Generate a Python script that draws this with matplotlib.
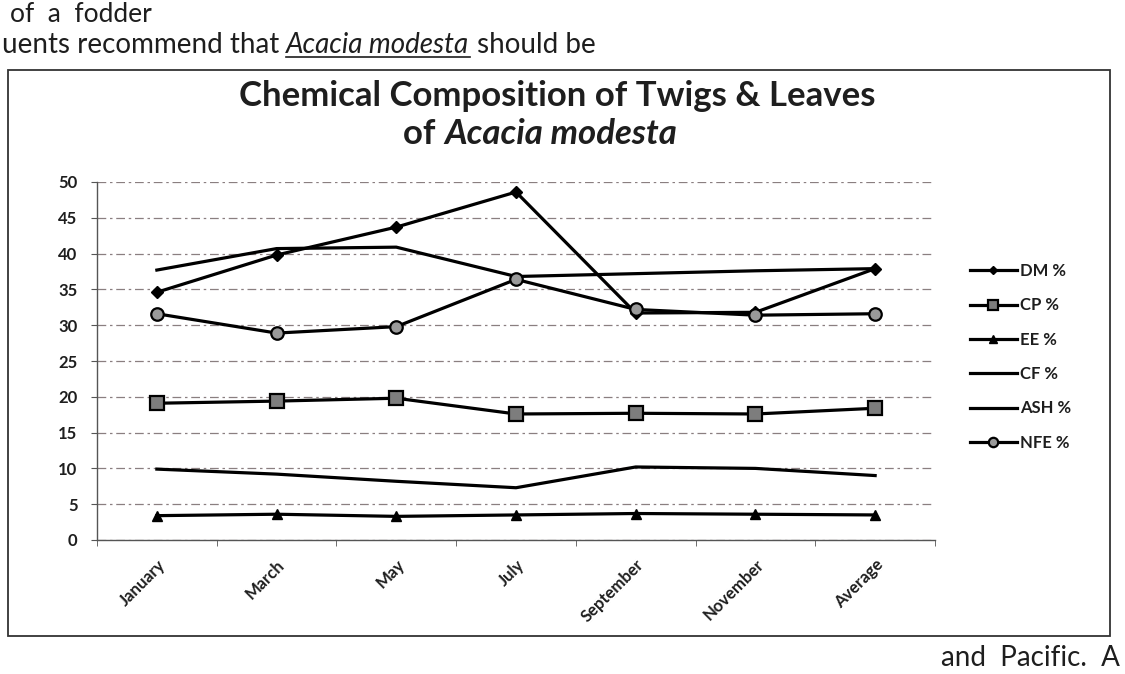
import matplotlib
matplotlib.use("Agg")
import matplotlib.pyplot as plt
from matplotlib.lines import Line2D
from matplotlib.patches import Rectangle

# Sampling months plus the overall average
months = ["January", "March", "May", "July", "September", "November", "Average"]

# Composition of twigs & leaves (%)
dm_pct = [34.6, 39.8, 43.7, 48.6, 31.7, 31.8, 37.9]
cp_pct = [19.1, 19.4, 19.8, 17.6, 17.7, 17.6, 18.4]
ee_pct = [3.4, 3.6, 3.3, 3.5, 3.7, 3.6, 3.5]
cf_pct = [37.7, 40.7, 40.9, 36.8, 37.2, 37.6, 37.9]
ash_pct = [9.9, 9.2, 8.2, 7.3, 10.2, 10.0, 9.0]
nfe_pct = [31.6, 28.9, 29.8, 36.4, 32.2, 31.4, 31.6]

series_names = ["DM %", "CP %", "EE %", "CF %", "ASH %", "NFE %"]
y_ticks = [0, 5, 10, 15, 20, 25, 30, 35, 40, 45, 50]

FONT = "Lato"
plt.rcParams["font.family"] = [FONT, "DejaVu Sans"]

W, H = 1125, 674
fig = plt.figure(figsize=(W / 100, H / 100), dpi=100)
fig.patch.set_facecolor("white")


def px_x(x):
    return x / W


def px_y(y):
    return 1 - y / H


INK = "#1e1e1e"

# Surrounding page text
fig.text(px_x(10), px_y(15), "of  a  fodder", fontsize=19, color=INK,
         va="center", ha="left")
t1 = fig.text(px_x(2), px_y(45), "uents recommend that ", fontsize=20,
              color=INK, va="center", ha="left")
fig.canvas.draw()
r = fig.canvas.get_renderer()
bb = t1.get_window_extent(r)
t2 = fig.text(bb.x1 / fig.bbox.width, px_y(45), "Acacia modesta", fontsize=20,
              style="italic", color=INK, va="center", ha="left")
bb2 = t2.get_window_extent(r)
fig.text(bb2.x1 / fig.bbox.width, px_y(45), " should be", fontsize=20,
         color=INK, va="center", ha="left")
fig.add_artist(Line2D([bb2.x0 / fig.bbox.width, bb2.x1 / fig.bbox.width],
                      [bb2.y0 / fig.bbox.height + 0.001] * 2,
                      color=INK, lw=1.2, transform=fig.transFigure))
fig.text(px_x(1120), px_y(658), "and  Pacific.  A", fontsize=20,
         color=INK, va="center", ha="right")

# Chart frame
fig.add_artist(Rectangle((px_x(8), px_y(636)), px_x(1102), px_y(70) - px_y(636),
                         transform=fig.transFigure, fill=False,
                         edgecolor="#333333", lw=1.3))

# Title
fig.text(px_x(557), px_y(96), "Chemical Composition of Twigs & Leaves",
         fontsize=25, fontweight="bold", color=INK, ha="center", va="center")
a = fig.text(0, px_y(134), "of ", fontsize=25, fontweight="bold",
             color=INK, ha="left", va="center")
b = fig.text(0, px_y(134), "Acacia modesta", fontsize=25, fontweight="bold",
             style="italic", color=INK, ha="left", va="center")
fig.canvas.draw()
wa = a.get_window_extent(r).width
wb = b.get_window_extent(r).width
x0 = 540 - (wa + wb) / 2
a.set_x(x0 / fig.bbox.width)
b.set_x((x0 + wa) / fig.bbox.width)

# Plot area
ax = fig.add_axes([px_x(97), px_y(540), px_x(838), px_y(182) - px_y(540)])
ax.set_facecolor("none")
x = list(range(len(months)))

line_kw = dict(color="black", lw=2.3)
ax.plot(x, dm_pct, marker="D", ms=6, mfc="black", mec="black",
        label=series_names[0], **line_kw)
ax.plot(x, cp_pct, marker="s", ms=10, mfc="#7d7d7d", mec="black", mew=1.6,
        label=series_names[1], **line_kw)
ax.plot(x, ee_pct, marker="^", ms=7, mfc="black", mec="black",
        label=series_names[2], **line_kw)
ax.plot(x, cf_pct, label=series_names[3], **line_kw)
ax.plot(x, ash_pct, label=series_names[4], **line_kw)
ax.plot(x, nfe_pct, marker="o", ms=9, mfc="#9a9a9a", mec="black", mew=1.6,
        label=series_names[5], **line_kw)

ax.set_xlim(-0.5, len(months) - 0.5)
ax.set_ylim(0, 50)
ax.set_yticks(y_ticks)
ax.set_yticklabels([str(v) for v in y_ticks], fontsize=12, fontweight="bold",
                   color=INK)
ax.set_xticks(x)
ax.set_xticklabels(months, rotation=45, ha="right", rotation_mode="anchor",
                   fontsize=12, fontweight="bold", color=INK)
ax.set_xticks([i + 0.5 for i in range(-1, len(months))], minor=True)
ax.tick_params(axis="x", which="major", length=0, pad=12)
ax.tick_params(axis="x", which="minor", length=4, color="#555555")
ax.tick_params(axis="y", length=4, color="#555555", pad=10)

ax.grid(axis="y", color="#8a7f80", lw=0.9, ls=(0, (7, 3, 2, 3)))
ax.set_axisbelow(True)
for side in ["top", "right"]:
    ax.spines[side].set_visible(False)
for side in ["left", "bottom"]:
    ax.spines[side].set_color("#555555")
    ax.spines[side].set_linewidth(1.0)

leg = ax.legend(loc="upper left", bbox_to_anchor=(px_x(955), px_y(248)),
                bbox_transform=fig.transFigure, frameon=False, fontsize=12,
                handlelength=2.8, labelspacing=1.1, markerscale=0.75,
                handletextpad=0.2)
for txt in leg.get_texts():
    txt.set_fontweight("bold")
    txt.set_color(INK)

fig.savefig("out.png", dpi=100, facecolor="white")
